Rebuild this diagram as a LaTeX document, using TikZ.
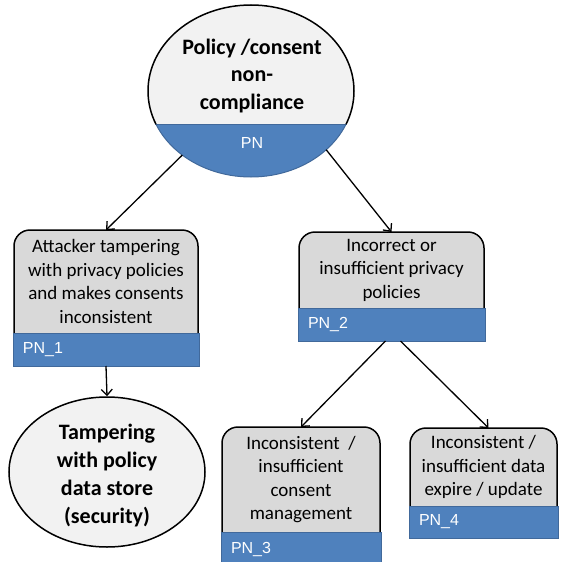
\documentclass[tikz,border=0pt]{standalone}
\usepackage{fontspec}
\setmainfont{Carlito}
\newfontfamily\pnfont{Liberation Sans}
\usetikzlibrary{arrows.meta,calc,shapes.geometric}
\pgfdeclarelayer{background}
\pgfsetlayers{background,main}

\definecolor{pnblue}{HTML}{4F81BD}
\definecolor{pnedge}{HTML}{41699B}
\definecolor{boxgray}{HTML}{D9D9D9}
\definecolor{ovalgray}{HTML}{F2F2F2}

\tikzset{
  boxtext/.style={rectangle, draw=none, inner sep=0pt, outer sep=0pt, align=center,
    font=\fontsize{19}{23.5}\selectfont, text=black},
  graybox/.style={draw=black, line width=1.5pt, fill=boxgray, rounded corners=16pt},
  pnbar/.style={rectangle, fill=pnblue, draw=pnedge, line width=0.8pt, anchor=north west,
    inner xsep=10pt, inner ysep=0pt, outer sep=0pt, align=left, text=white,
    font=\pnfont\fontsize{16}{18}\selectfont},
  ovaltext/.style={align=center, font=\bfseries\fontsize{22}{27.5}\selectfont, text=black},
  link/.style={draw=black, line width=1.3pt, -{Straight Barb[length=6pt,width=11pt]}}
}

\begin{document}
\begin{tikzpicture}[x=1pt,y=-1pt]
\useasboundingbox (0,0) rectangle (562,562);
\clip (0,0) rectangle (562,562);

% ---- root goal: oval with a blue band at the bottom ----
\node[ellipse, draw=none, inner sep=0pt, outer sep=0pt,
      minimum width=206pt, minimum height=172pt] (top) at (251,91) {};
\fill[ovalgray] (top.center) ellipse [x radius=103pt, y radius=86pt];
\begin{scope}
  \clip (top.center) ellipse [x radius=103pt, y radius=86pt];
  \fill[pnblue] (140,124) rectangle (362,180);
  \draw[pnedge, line width=0.8pt] (140,124) -- (362,124);
\end{scope}
\begin{scope}
  \clip (130,0) rectangle (370,124);
  \draw[black, line width=1.5pt] (top.center) ellipse [x radius=103pt, y radius=86pt];
\end{scope}
\begin{scope}
  \clip (130,124) rectangle (370,185);
  \draw[pnedge, line width=1pt] (top.center) ellipse [x radius=103pt, y radius=86pt];
\end{scope}
\node[ovaltext] (toptext) at (252,76) {Policy /consent\\non-\\compliance};
\node[text=white, font=\pnfont\fontsize{16}{18}\selectfont] (pn0) at (252,143) {PN};

% ---- sub-goal boxes ----
\node[boxtext, minimum width=184pt, minimum height=103pt] (b1) at (106,281.5)
  {Attacker tampering\\with privacy policies\\and makes consents\\inconsistent};
\node[pnbar, text width=166pt, minimum height=33pt] (p1) at ($(b1.south west)+(-1,0)$) {PN\_1};

\node[boxtext, minimum width=185pt, minimum height=76pt] (b2) at (391.5,270)
  {Incorrect or\\insufficient privacy\\policies};
\node[pnbar, text width=167pt, minimum height=33pt] (p2) at ($(b2.south west)+(-1,0)$) {PN\_2};

\node[boxtext, minimum width=158pt, minimum height=105pt] (b3) at (301,479.5)
  {Inconsistent~ /\\insufficient\\consent\\management};
\node[pnbar, text width=140pt, minimum height=34pt] (p3) at ($(b3.south west)+(-1,0)$) {PN\_3};

\node[boxtext, minimum width=147pt, minimum height=78pt] (b4) at (483.5,467)
  {Inconsistent /\\insufficient data\\expire / update};
\node[pnbar, text width=129pt, minimum height=32pt] (p4) at ($(b4.south west)+(-1,0)$) {PN\_4};

\begin{pgfonlayer}{background}
  \draw[graybox] (b1.north west) rectangle ($(b1.south east)+(0,22)$);
  \draw[graybox] (b2.north west) rectangle ($(b2.south east)+(0,22)$);
  \draw[graybox] (b3.north west) rectangle ($(b3.south east)+(0,22)$);
  \draw[graybox] (b4.north west) rectangle ($(b4.south east)+(0,22)$);
\end{pgfonlayer}

% ---- leaf: security oval ----
\node[ellipse, draw=black, line width=1.5pt, fill=ovalgray, inner sep=0pt,
      minimum width=196pt, minimum height=150pt] (sec) at (107,472) {};
\node[ovaltext, font=\bfseries\fontsize{22}{28}\selectfont] (sectext) at (107,476)
  {Tampering\\with policy\\data store\\(security)};

% ---- connectors ----
\draw[link] (top.223) -- (b1.north);
\draw[link] (top.-38) -- (b2.north);
\draw[link] ($(p2.south)+(-6,0)$) -- (b3.north);
\draw[link] ($(p2.south)+(9,0)$) -- ($(b4.north)+(5,0)$);
\draw[link] (p1.south) -- (sec.north);
\end{tikzpicture}
\end{document}
